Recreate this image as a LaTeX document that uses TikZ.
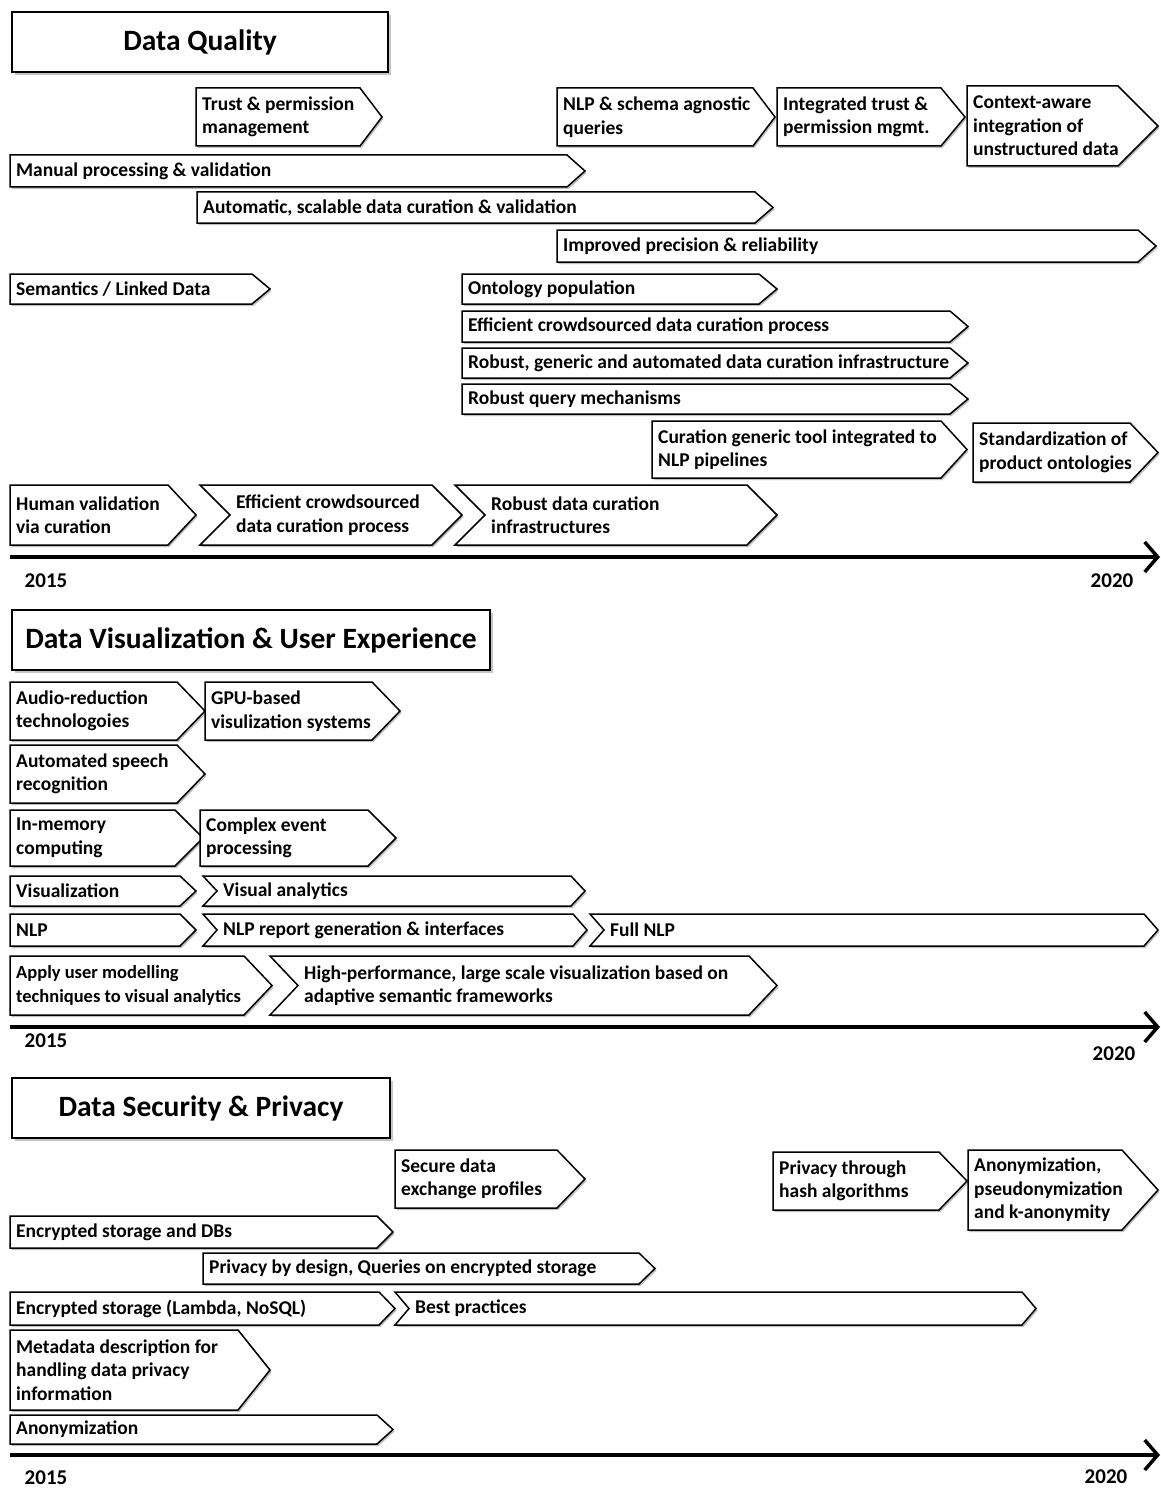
\documentclass[tikz,border=0pt]{standalone}
\usepackage{fontspec}
\setmainfont{Carlito}
\usetikzlibrary{shadows,arrows.meta}

\newcommand\boxsmall{\fontsize{18.5}{23.5}\selectfont}

\tikzset{
  x=1pt, y=-1pt,
  boxline/.style={draw=black, line width=1.5pt, fill=white,
    drop shadow={shadow xshift=1.5pt, shadow yshift=-2pt, opacity=0.35, fill=black!70}},
  boxtext/.style={font=\fontsize{19.5}{23.5}\selectfont\bfseries, align=left,
    inner sep=0pt, anchor=west},
  titlebox/.style={draw=black, line width=1.5pt, fill=white,
    drop shadow={shadow xshift=3pt, shadow yshift=-3pt, opacity=0.45},
    font=\fontsize{29.5}{33}\selectfont\bfseries},
  timeline/.style={line width=4.5pt,
    -{Straight Barb[length=13pt, width=30pt, line width=3.5pt]}},
  yeartext/.style={font=\fontsize{21}{24}\selectfont\bfseries, inner sep=0pt},
}

% pentagon arrow: name, x1, y1, x2, y2, tip, text
\newcommand\plate[7]{%
  \path[boxline] (#2,#3) -- ({#4-#6},#3) -- (#4,{(#3+#5)/2}) -- ({#4-#6},#5)
    -- (#2,#5) -- cycle;
  \node[boxtext] (#1) at ({#2+6},{(#3+#5)/2}) {#7};}
% chevron arrow with notched tail: name, x1, y1, x2, y2, tip, text
\newcommand\chev[7]{%
  \path[boxline] (#2,#3) -- ({#4-#6},#3) -- (#4,{(#3+#5)/2}) -- ({#4-#6},#5)
    -- (#2,#5) -- ({#2+#6},{(#3+#5)/2}) -- cycle;
  \node[boxtext] (#1) at ({#2+#6+6},{(#3+#5)/2}) {#7};}

\begin{document}
\begin{tikzpicture}
\fill[white] (0,0) rectangle (1160,1490);
\useasboundingbox (0,0) rectangle (1160,1490);

% ---------------- Data Quality ----------------
\node[titlebox, minimum width=376pt, minimum height=60pt] (dqtitle) at (200,42) {Data Quality};

\plate{trust}{196}{88}{382}{146}{22}{Trust \& permission\\management}
\plate{nlpq}{557}{88}{775}{146}{22}{NLP \& schema agnostic\\queries}
\plate{inttrust}{777}{88}{965}{146}{24}{Integrated trust \&\\permission mgmt.}
\plate{ctx}{967}{86}{1158}{166}{40}{Context-aware\\integration of\\unstructured data}
\plate{manual}{10}{155}{585}{187}{18}{Manual processing \& validation}
\plate{autocur}{197}{192}{773}{223}{18}{Automatic, scalable data curation \& validation}
\plate{precision}{557}{230}{1156}{262}{18}{Improved precision \& reliability}
\plate{semantics}{10}{274}{270}{304}{18}{Semantics / Linked Data}
\plate{ontology}{462}{274}{777}{304}{18}{Ontology population}
\plate{crowd}{462}{311}{968}{342}{18}{Efficient crowdsourced data curation process}
\plate{robinfra}{462}{348}{968}{378}{18}{Robust, generic and automated data curation infrastructure}
\plate{robquery}{462}{384}{968}{414}{18}{Robust query mechanisms}
\plate{curtool}{652}{421}{967}{478}{26}{Curation generic tool integrated to\\NLP pipelines}
\plate{standard}{973}{423}{1158}{482}{28}{Standardization of\\product ontologies}
\plate{human}{10}{485}{196}{545}{28}{Human validation\\via curation}
\chev{crowdtwo}{200}{485}{462}{545}{30}{Efficient crowdsourced\\data curation process}
\chev{robdata}{455}{485}{777}{545}{30}{Robust data curation\\infrastructures}

\coordinate (dqstart) at (10,557);
\coordinate (dqend) at (1160,557);
\draw[timeline] (dqstart) -- (dqend);
\node[yeartext] (dqa) at (46,581) {2015};
\node[yeartext] (dqb) at (1112,581) {2020};

% ---------------- Data Visualization & User Experience ----------------
\node[titlebox, minimum width=478pt, minimum height=60pt] (dvtitle) at (251,640) {Data Visualization \& User Experience};

\plate{audio}{10}{682}{205}{740}{28}{Audio-reduction\\technologoies}
\plate{gpu}{205}{682}{400}{740}{28}{GPU-based\\visulization systems}
\plate{speech}{10}{745}{205}{803}{28}{Automated speech\\recognition}
\plate{inmem}{10}{810}{203}{866}{28}{In-memory\\computing}
\plate{cep}{200}{810}{396}{866}{28}{Complex event\\processing}
\plate{vis}{10}{876}{196}{906}{16}{Visualization}
\chev{visan}{203}{876}{585}{906}{14}{Visual analytics}
\plate{nlp}{10}{914}{196}{946}{16}{NLP}
\chev{nlprep}{203}{914}{587}{946}{14}{NLP report generation \& interfaces}
\chev{fullnlp}{590}{914}{1158}{946}{14}{Full NLP}
\plate{usermod}{10}{956}{272}{1015}{28}{{\boxsmall Apply user modelling}\\{\boxsmall techniques to visual analytics}}
\chev{highperf}{270}{956}{777}{1015}{28}{High-performance, large scale visualization based on\\adaptive semantic frameworks}

\coordinate (dvstart) at (10,1027);
\coordinate (dvend) at (1160,1027);
\draw[timeline] (dvstart) -- (dvend);
\node[yeartext] (dva) at (46,1041) {2015};
\node[yeartext] (dvb) at (1114,1054) {2020};

% ---------------- Data Security & Privacy ----------------
\node[titlebox, minimum width=378pt, minimum height=60pt] (dstitle) at (201,1108) {Data Security \& Privacy};

\plate{secure}{395}{1150}{585}{1208}{28}{Secure data\\exchange profiles}
\plate{hash}{773}{1152}{967}{1210}{28}{Privacy through\\hash algorithms}
\plate{anonk}{968}{1150}{1158}{1230}{36}{Anonymization,\\pseudonymization\\and k-anonymity}
\plate{encdb}{10}{1216}{393}{1248}{16}{Encrypted storage and DBs}
\plate{pbd}{203}{1253}{655}{1284}{16}{Privacy by design, Queries on encrypted storage}
\plate{lambda}{10}{1292}{395}{1325}{16}{Encrypted storage (Lambda, NoSQL)}
\chev{best}{395}{1292}{1036}{1325}{14}{Best practices}
\plate{meta}{10}{1330}{270}{1410}{32}{Metadata description for\\handling data privacy\\information}
\plate{anon}{10}{1415}{393}{1444}{16}{Anonymization}

\coordinate (dsstart) at (10,1455);
\coordinate (dsend) at (1160,1455);
\draw[timeline] (dsstart) -- (dsend);
\node[yeartext] (dsa) at (46,1478) {2015};
\node[yeartext] (dsb) at (1106,1477) {2020};
\end{tikzpicture}
\end{document}
